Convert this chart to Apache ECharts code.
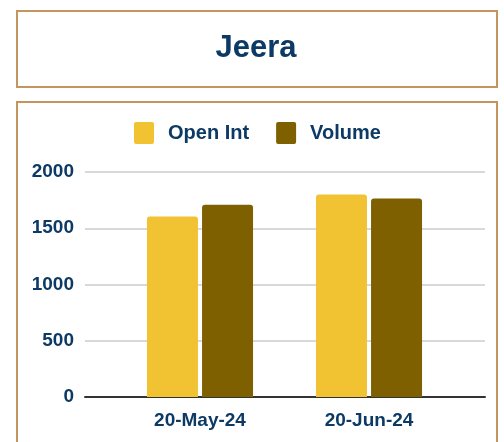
<!DOCTYPE html>
<html>
<head>
<meta charset="utf-8">
<script src="https://cdn.jsdelivr.net/npm/echarts@6/dist/echarts.min.js"></script>
<style>
html,body{margin:0;padding:0;background:#fff;}
#chart{width:504px;height:442px;}
</style>
</head>
<body>
<div id="chart"></div>
<script>
const chartTitle = 'Jeera';
const categories = ['20-May-24', '20-Jun-24'];
const seriesNames = ['Open Int', 'Volume'];
const openInt = [1605, 1800];
const volume = [1710, 1765];
const yTicks = [0, 500, 1000, 1500, 2000];

const navy = '#0c3a64';
const border = '#c4955c';
const colors = ['#f1c232', '#7f6000'];

const chart = echarts.init(document.getElementById('chart'), null, {renderer: 'canvas'});
chart.setOption({
  animation: false,
  backgroundColor: '#fff',
  graphic: [
    {type: 'rect', shape: {x: 17, y: 11, width: 480, height: 76}, style: {fill: 'none', stroke: border, lineWidth: 2}},
    {type: 'rect', shape: {x: 17, y: 102, width: 480, height: 400}, style: {fill: 'none', stroke: border, lineWidth: 2}}
  ],
  title: {
    text: chartTitle,
    left: 256,
    textAlign: 'center',
    top: 32,
    padding: 0,
    textStyle: {fontFamily: 'Liberation Sans', fontWeight: 'bold', fontSize: 31, color: navy, lineHeight: 32}
  },
  legend: {
    data: seriesNames,
    left: 134,
    top: 122,
    padding: 0,
    itemWidth: 20,
    itemHeight: 22,
    itemGap: 27,
    icon: 'path://M2,0 L18,0 Q20,0 20,2 L20,20 Q20,22 18,22 L2,22 Q0,22 0,20 L0,2 Q0,0 2,0 Z',
    textStyle: {fontFamily: 'Liberation Sans', fontWeight: 'bold', fontSize: 20, color: navy, padding: [0, 0, 0, 9]}
  },
  grid: [
    {left: 85, right: 19, top: 172, bottom: 45},
    {left: 115.5, right: 50.5, top: 172, bottom: 45}
  ],
  xAxis: [
    {gridIndex: 0, type: 'value', min: 0, max: 1, axisLabel: {show: false}, axisTick: {show: false}, splitLine: {show: false},
     axisLine: {show: true, lineStyle: {color: '#333', width: 2}}},
    {gridIndex: 1, type: 'category', data: categories, axisLine: {show: false}, axisTick: {show: false},
     axisLabel: {margin: 14, fontFamily: 'Liberation Sans', fontWeight: 'bold', fontSize: 19, color: navy}}
  ],
  yAxis: [
    {gridIndex: 0, type: 'value', min: yTicks[0], max: yTicks[yTicks.length - 1], interval: yTicks[1] - yTicks[0],
     axisLine: {show: false}, axisTick: {show: false},
     axisLabel: {margin: 11, fontFamily: 'Liberation Sans', fontWeight: 'bold', fontSize: 19, color: navy,
                 formatter: function (v) { return String(v); }},
     splitLine: {show: true, lineStyle: {color: '#cccccc', width: 1.5}}},
    {gridIndex: 1, type: 'value', min: yTicks[0], max: yTicks[yTicks.length - 1], interval: yTicks[1] - yTicks[0], show: false, splitLine: {show: false}}
  ],
  series: [
    {name: seriesNames[0], type: 'bar', xAxisIndex: 1, yAxisIndex: 1, data: openInt, barWidth: 51, barGap: '8%',
     itemStyle: {color: colors[0], borderRadius: [3, 3, 0, 0]}},
    {name: seriesNames[1], type: 'bar', xAxisIndex: 1, yAxisIndex: 1, data: volume, barWidth: 51, barGap: '8%',
     itemStyle: {color: colors[1], borderRadius: [3, 3, 0, 0]}}
  ]
});
</script>
</body>
</html>
